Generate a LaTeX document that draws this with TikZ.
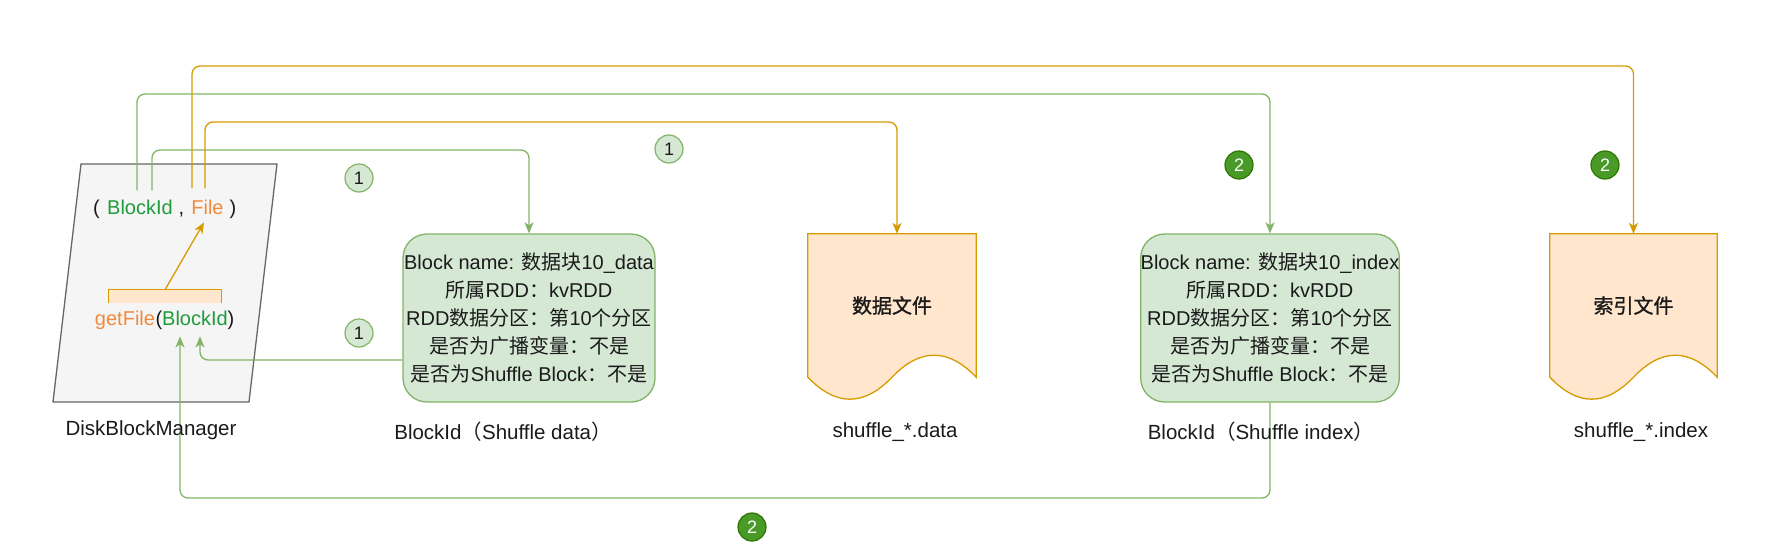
\documentclass[tikz,border=0pt]{standalone}
\usepackage{fontspec}
\setmainfont{Liberation Sans}
\newfontfamily\cjk{Noto Sans CJK SC}
\newfontfamily\cjkb[FakeBold=1.2]{Noto Sans CJK SC}
\usetikzlibrary{arrows.meta,calc}
\definecolor{gline}{HTML}{82B366}
\definecolor{gfill}{HTML}{D5E8D4}
\definecolor{oline}{HTML}{D79B00}
\definecolor{ofill}{HTML}{FFE6CC}
\definecolor{gtext}{HTML}{1E9B3A}
\definecolor{otext}{HTML}{F08A3C}
\definecolor{dgfill}{HTML}{4A9A2A}
\definecolor{dgline}{HTML}{2D7600}
\definecolor{pfill}{HTML}{F5F5F5}
\definecolor{pline}{HTML}{666666}
\definecolor{txt}{HTML}{1A1A1A}
\tikzset{
  garrow/.style={draw=gline, line width=1.3pt, rounded corners=8pt, -{Stealth[length=11pt,width=9pt,inset=3pt]}},
  oarrow/.style={draw=oline, line width=1.3pt, rounded corners=8pt, -{Stealth[length=11pt,width=9pt,inset=3pt]}},
  infobox/.style={draw=gline, fill=gfill, line width=1.3pt, rounded corners=24pt, minimum width=252pt, minimum height=168pt, inner sep=0pt, align=center, font=\fontsize{20}{28}\selectfont, text=txt},
  docn/.style={draw=none, minimum width=168pt, minimum height=143pt, inner sep=0pt},
  docshape/.style={draw=oline, fill=ofill, line width=1.3pt},
  doctext/.style={font=\fontsize{20}{24}\selectfont\cjkb, text=txt, inner sep=0pt},
  num1/.style={circle, draw=gline, fill=gfill, line width=1.2pt, minimum size=28pt, inner sep=0pt, font=\fontsize{18}{18}\selectfont, text=txt},
  num2/.style={circle, draw=dgline, fill=dgfill, line width=1.2pt, minimum size=28pt, inner sep=0pt, font=\fontsize{18}{18}\selectfont, text=white},
  lbl/.style={font=\fontsize{20.5}{24}\selectfont, text=txt, inner sep=0pt},
  tword/.style={font=\fontsize{20}{24}\selectfont, inner sep=0pt, anchor=base, text=txt},
}
\begin{document}
\begin{tikzpicture}[x=1pt,y=-1pt]
\useasboundingbox (0,0) rectangle (1770,554);
% DiskBlockManager parallelogram
\draw[fill=pfill, draw=pline, line width=1.3pt] (81,164) -- (277,164) -- (249,402) -- (53,402) -- cycle;
% tuple
\node[tword] (tp1) at (96.5,214) {(};
\node[tword, text=gtext] (tb) at (140,214) {BlockId};
\node[tword] (tp2) at (181.5,214) {,};
\node[tword, text=otext] (tf) at (207.5,214) {File};
\node[tword] (tp3) at (233,214) {)};
% getFile(BlockId)
\node[tword, text=otext] (gf) at (125,325) {getFile};
\node[tword] (gp1) at (159,325) {(};
\node[tword, text=gtext] (gb) at (195,325) {BlockId};
\node[tword] (gp2) at (231,325) {)};
% bracket
\node[fill=ofill, minimum width=112pt, minimum height=13pt, inner sep=0pt] (brk) at (165,296.5) {};
\draw[oline, line width=1.3pt] (brk.south west) -- (brk.north west) -- (brk.north east) -- (brk.south east);
\draw[oarrow] (brk.north) -- ([xshift=-3.5pt,yshift=-8pt]tf.south);
% boxes
\node[infobox] (box1) at (529,318) {Block name: {\cjk 数据块}10\_data\\
{\cjk 所属}RDD{\cjk ：}kvRDD\\
RDD{\cjk 数据分区：第}10{\cjk 个分区}\\
{\cjk 是否为广播变量：不是}\\
{\cjk 是否为}Shuffle Block{\cjk ：不是}};
\node[infobox] (box2) at (1270,318) {Block name: {\cjk 数据块}10\_index\\
{\cjk 所属}RDD{\cjk ：}kvRDD\\
RDD{\cjk 数据分区：第}10{\cjk 个分区}\\
{\cjk 是否为广播变量：不是}\\
{\cjk 是否为}Shuffle Block{\cjk ：不是}};
% documents
\node[docn] (doc1) at (892,305.5) {};
\path[docshape] (doc1.north west) -- (doc1.north east) -- (doc1.south east)
  .. controls ($(doc1.south east)+(-28,-29.3)$) and ($(doc1.south)+(28,-29.3)$) .. (doc1.south)
  .. controls ($(doc1.south)+(-28,29.3)$) and ($(doc1.south west)+(28,29.3)$) .. (doc1.south west) -- cycle;
\node[doctext] (doc1t) at (doc1.center) {数据文件};
\node[docn, minimum width=167pt] (doc2) at (1633.5,305.5) {};
\path[docshape] (doc2.north west) -- (doc2.north east) -- (doc2.south east)
  .. controls ($(doc2.south east)+(-28,-29.3)$) and ($(doc2.south)+(28,-29.3)$) .. (doc2.south)
  .. controls ($(doc2.south)+(-28,29.3)$) and ($(doc2.south west)+(28,29.3)$) .. (doc2.south west) -- cycle;
\node[doctext] (doc2t) at (doc2.center) {索引文件};
% connectors
\coordinate (gs1) at ([xshift=-3pt,yshift=9pt]tb.north);
\coordinate (gs2) at ([xshift=12pt,yshift=9pt]tb.north);
\coordinate (os1) at ([xshift=-15.5pt,yshift=11pt]tf.north);
\coordinate (os2) at ([xshift=-2.5pt,yshift=11pt]tf.north);
\coordinate (yA) at (0,94);
\coordinate (yB) at (0,150);
\coordinate (yC) at (0,66);
\coordinate (yD) at (0,122);
\coordinate (yE) at (0,498);
\draw[garrow] (gs1) -- (gs1 |- yA) -| (box2.north);
\draw[garrow] (gs2) -- (gs2 |- yB) -| (box1.north);
\draw[oarrow] (os1) -- (os1 |- yC) -| (doc2.north);
\draw[oarrow] (os2) -- (os2 |- yD) -| ([xshift=5pt]doc1.north);
\draw[garrow] ([yshift=-42pt]box1.west) -| ([xshift=5pt,yshift=-11pt]gb.south);
\draw[garrow] (box2.south) -- (box2.south |- yE) -| ([xshift=-15pt,yshift=-11pt]gb.south);
% labels
\node[lbl] (l1) at (151,430) {DiskBlockManager};
\node[lbl] (l2) at (503,432) {BlockId{\cjk （}Shuffle data{\cjk ）}};
\node[lbl] (l3) at (895,432) {shuffle\_*.data};
\node[lbl] (l4) at (1261,432) {BlockId{\cjk （}Shuffle index{\cjk ）}};
\node[lbl] (l5) at (1641,432) {shuffle\_*.index};
% step markers
\node[num1] (c1a) at (359,178) {1};
\node[num1] (c1b) at (359,333) {1};
\node[num1] (c1c) at (669,149) {1};
\node[num2] (c2a) at (1239,165) {2};
\node[num2] (c2b) at (1605,165) {2};
\node[num2] (c2c) at (752,527) {2};
\end{tikzpicture}
\end{document}
